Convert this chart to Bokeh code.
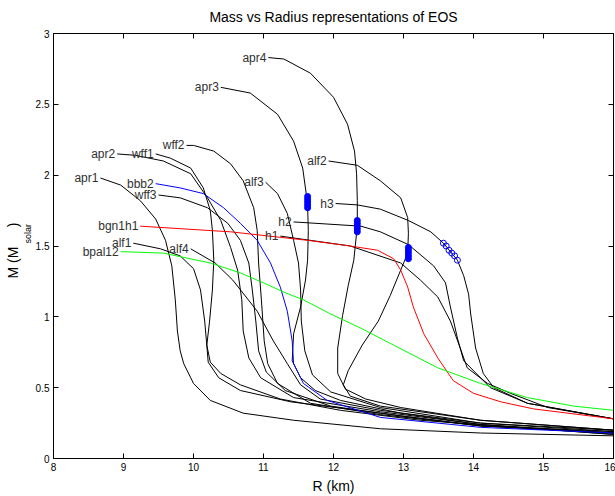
from bokeh.plotting import figure
from bokeh.models import LinearAxis, Range1d, FixedTicker, Title
from bokeh.embed import file_html
from bokeh.resources import INLINE
from bokeh.core.properties import value

FONT = "Liberation Sans"

x_ticks = [8, 9, 10, 11, 12, 13, 14, 15, 16]
y_ticks = [0, 0.5, 1, 1.5, 2, 2.5, 3]

# ---- curves (R in km, M in solar masses) ----
apr1_R = [8.67, 8.96, 9.24, 9.46, 9.60, 9.69, 9.74, 9.77, 9.81, 9.86, 10.0, 10.24, 10.71, 11.43, 12.67, 14.1, 16.0]
apr1_M = [1.98, 1.93, 1.82, 1.69, 1.54, 1.36, 1.12, 0.90, 0.76, 0.67, 0.53, 0.41, 0.32, 0.27, 0.21, 0.18, 0.16]

apr2_R = [8.91, 9.17, 9.57, 9.96, 10.20, 10.39, 10.53, 10.63, 10.69, 10.71, 10.79, 10.96, 11.43, 12.67, 14.10, 16.0]
apr2_M = [2.15, 2.14, 2.10, 2.01, 1.84, 1.68, 1.49, 1.33, 1.12, 0.90, 0.71, 0.57, 0.43, 0.33, 0.24, 0.17]

wff1_R = [9.46, 9.67, 9.96, 10.14, 10.24, 10.27, 10.29, 10.27, 10.23, 10.19, 10.21, 10.36, 10.67, 11.39, 12.67, 14.10, 16.0]
wff1_M = [2.15, 2.12, 2.05, 1.91, 1.75, 1.61, 1.40, 1.19, 0.97, 0.80, 0.68, 0.57, 0.48, 0.40, 0.32, 0.23, 0.18]

wff2_R = [9.90, 10.0, 10.29, 10.53, 10.71, 10.86, 10.91, 10.93, 10.97, 11.01, 11.06, 11.2, 11.67, 12.67, 14.10, 16.0]
wff2_M = [2.21, 2.21, 2.17, 2.08, 1.96, 1.77, 1.61, 1.38, 1.12, 0.83, 0.67, 0.53, 0.39, 0.31, 0.23, 0.19]

wff3_R = [9.50, 9.81, 10.2, 10.49, 10.67, 10.79, 10.84, 10.89, 10.93, 11.04, 11.31, 11.96, 12.96, 14.10, 16.0]
wff3_M = [1.86, 1.84, 1.77, 1.66, 1.54, 1.38, 1.19, 0.97, 0.76, 0.61, 0.48, 0.37, 0.30, 0.23, 0.18]

bbb2_R = [9.46, 9.81, 10.14, 10.43, 10.67, 10.91, 11.1, 11.24, 11.34, 11.41, 11.43, 11.57, 11.91, 12.67, 14.10, 16.0]
bbb2_M = [1.94, 1.91, 1.87, 1.77, 1.66, 1.54, 1.38, 1.21, 1.04, 0.83, 0.67, 0.53, 0.41, 0.29, 0.22, 0.18]

apr3_R = [10.39, 10.81, 11.2, 11.43, 11.56, 11.61, 11.63, 11.64, 11.63, 11.6, 11.53, 11.43, 11.41, 11.53, 11.74, 12.1, 12.96, 14.1, 16.0]
apr3_M = [2.62, 2.58, 2.43, 2.24, 2.05, 1.87, 1.79, 1.61, 1.40, 1.26, 1.07, 0.88, 0.69, 0.57, 0.48, 0.41, 0.32, 0.24, 0.18]

apr4_R = [11.07, 11.29, 11.67, 12.0, 12.2, 12.3, 12.33, 12.34, 12.34, 12.29, 12.21, 12.13, 12.06, 12.06, 12.17, 12.46, 12.96, 14.1, 16.0]
apr4_M = [2.83, 2.82, 2.72, 2.55, 2.36, 2.17, 2.01, 1.82, 1.64, 1.40, 1.22, 1.01, 0.78, 0.60, 0.49, 0.42, 0.36, 0.27, 0.20]

alf1_R = [9.14, 9.53, 9.81, 10.0, 10.1, 10.16, 10.19, 10.24, 10.39, 10.67, 11.24, 12.1, 13.24, 16.0]
alf1_M = [1.52, 1.48, 1.43, 1.34, 1.19, 0.97, 0.80, 0.68, 0.60, 0.52, 0.42, 0.34, 0.27, 0.17]

alf2_R = [11.93, 12.34, 12.67, 12.96, 13.06, 13.07, 13.06, 12.96, 12.81, 12.64, 12.41, 12.21, 12.14, 12.24, 12.67, 14.1, 16.0]
alf2_M = [2.10, 2.07, 1.96, 1.84, 1.70, 1.59, 1.45, 1.33, 1.15, 0.97, 0.80, 0.62, 0.52, 0.44, 0.37, 0.27, 0.20]

alf3_R = [11.03, 11.2, 11.34, 11.43, 11.5, 11.53, 11.54, 11.59, 11.7, 11.96, 12.67, 14.1, 16.0]
alf3_M = [1.95, 1.87, 1.73, 1.54, 1.38, 1.19, 0.97, 0.76, 0.59, 0.47, 0.36, 0.25, 0.19]

alf4_R = [9.96, 10.31, 10.56, 10.91, 11.14, 11.34, 11.53, 11.81, 12.67, 14.1, 16.0]
alf4_M = [1.48, 1.38, 1.26, 1.04, 0.83, 0.67, 0.52, 0.42, 0.34, 0.25, 0.20]

bpal12_R = [8.96, 9.57, 10.24, 10.67, 11.0, 11.31, 11.57, 11.96, 12.39, 12.86, 13.49, 14.1, 14.77, 15.43, 16.0]
bpal12_M = [1.46, 1.45, 1.38, 1.31, 1.24, 1.17, 1.12, 1.02, 0.92, 0.80, 0.64, 0.53, 0.43, 0.37, 0.34]

bgn1h1_R = [9.24, 10.53, 11.63, 12.24, 12.63, 12.86, 12.96, 13.06, 13.14, 13.29, 13.49, 13.71, 14.0, 14.39, 14.86, 16.0]
bgn1h1_M = [1.64, 1.60, 1.54, 1.50, 1.47, 1.41, 1.33, 1.21, 1.07, 0.88, 0.71, 0.55, 0.46, 0.40, 0.35, 0.28]

h1_R = [11.24, 12.24, 12.96, 13.24, 13.49, 13.67, 13.81, 13.91, 14.2, 14.53, 15.06, 16.0]
h1_M = [1.57, 1.50, 1.38, 1.26, 1.14, 0.97, 0.78, 0.64, 0.53, 0.46, 0.36, 0.28]

h2_R = [11.43, 12.39, 12.67, 13.07, 13.43, 13.6, 13.67, 13.77, 13.86, 14.24, 14.77, 16.0]
h2_M = [1.67, 1.64, 1.60, 1.51, 1.36, 1.24, 1.07, 0.85, 0.69, 0.50, 0.39, 0.28]

h3_R = [12.03, 12.34, 12.67, 13.07, 13.39, 13.57, 13.77, 13.86, 13.93, 13.96, 14.03, 14.14, 14.29, 14.77, 16.0]
h3_M = [1.80, 1.79, 1.76, 1.68, 1.60, 1.52, 1.40, 1.29, 1.16, 1.02, 0.78, 0.60, 0.50, 0.39, 0.28]

# blue markers
dots_apr3_R = [11.63, 11.63, 11.63, 11.63, 11.63]
dots_apr3_M = [1.77, 1.79, 1.81, 1.83, 1.85]
dots_apr4_R = [12.34, 12.34, 12.34, 12.34, 12.34]
dots_apr4_M = [1.60, 1.62, 1.64, 1.66, 1.68]
dots_alf2_R = [13.07, 13.07, 13.07, 13.07, 13.07]
dots_alf2_M = [1.41, 1.43, 1.45, 1.47, 1.49]
rings_h3_R = [13.57, 13.61, 13.65, 13.69, 13.73, 13.77]
rings_h3_M = [1.52, 1.50, 1.47, 1.45, 1.43, 1.40]

curves = [
    ("apr1", apr1_R, apr1_M, "black"),
    ("apr2", apr2_R, apr2_M, "black"),
    ("apr3", apr3_R, apr3_M, "black"),
    ("apr4", apr4_R, apr4_M, "black"),
    ("wff1", wff1_R, wff1_M, "black"),
    ("wff2", wff2_R, wff2_M, "black"),
    ("wff3", wff3_R, wff3_M, "black"),
    ("alf1", alf1_R, alf1_M, "black"),
    ("alf2", alf2_R, alf2_M, "black"),
    ("alf3", alf3_R, alf3_M, "black"),
    ("alf4", alf4_R, alf4_M, "black"),
    ("h1", h1_R, h1_M, "black"),
    ("h2", h2_R, h2_M, "black"),
    ("h3", h3_R, h3_M, "black"),
    ("bbb2", bbb2_R, bbb2_M, "#0000ff"),
    ("bgn1h1", bgn1h1_R, bgn1h1_M, "#ff0000"),
    ("bpal12", bpal12_R, bpal12_M, "#00ff00"),
]

p = figure(width=615, height=496, x_range=Range1d(8, 16), y_range=Range1d(0, 3),
           output_backend="svg", toolbar_location=None,
           min_border_left=53, min_border_right=2, min_border_top=33, min_border_bottom=38)
p.background_fill_color = "white"
p.border_fill_color = "white"
p.outline_line_color = "black"
p.grid.visible = False

p.xaxis.ticker = FixedTicker(ticks=x_ticks)
p.yaxis.ticker = FixedTicker(ticks=y_ticks)
for ax in p.axis:
    ax.major_tick_in = 5
    ax.major_tick_out = 0
    ax.minor_tick_in = 0
    ax.minor_tick_out = 0
    ax.axis_line_color = "black"
    ax.major_tick_line_color = "black"
    ax.major_label_text_font = FONT
    ax.major_label_text_font_size = "10px"
    ax.major_label_text_color = "black"
    ax.major_label_standoff = 4
p.xaxis.axis_label = "R (km)"
p.xaxis.axis_label_text_font = FONT
p.xaxis.axis_label_text_font_size = "14px"
p.xaxis.axis_label_text_font_style = "normal"
p.xaxis.axis_label_text_color = "black"
p.xaxis.axis_label_standoff = 4

top_ax = LinearAxis(ticker=FixedTicker(ticks=x_ticks),
                    major_label_overrides={t: "" for t in x_ticks},
                    major_tick_in=5, major_tick_out=0, minor_tick_in=0, minor_tick_out=0,
                    major_label_standoff=0, axis_line_color="black")
p.add_layout(top_ax, "above")
right_ax = LinearAxis(ticker=FixedTicker(ticks=y_ticks),
                      major_label_overrides={t: "" for t in y_ticks},
                      major_tick_in=5, major_tick_out=0, minor_tick_in=0, minor_tick_out=0,
                      major_label_standoff=0, axis_line_color="black")
p.add_layout(right_ax, "right")

p.add_layout(Title(text="Mass vs Radius representations of EOS", align="center",
                   vertical_align="middle",
                   text_font=FONT, text_font_size="14px", text_font_style="normal",
                   text_color="black", standoff=15), "above")

# y-axis label: subscript column (next to the axis), then the main text column
p.add_layout(Title(text="solar", align="left", offset=215, text_font=FONT,
                   text_font_size="9px", text_font_style="normal", text_color="black",
                   standoff=0), "left")
p.add_layout(Title(text="M (M\u00a0\u00a0\u00a0\u00a0\u00a0)", align="left", offset=180,
                   text_font=FONT, text_font_size="14px", text_font_style="normal",
                   text_color="black", standoff=0), "left")

for name, R, M, col in curves:
    p.line(R, M, line_color=col, line_width=1)

p.text(x=[c[1][0] for c in curves], y=[c[2][0] for c in curves], text=[c[0] for c in curves],
       text_align="right", text_baseline="middle", x_offset=-2,
       text_font=value(FONT), text_font_size=value("12px"), text_color="#303030")

for R, M in [(dots_apr3_R, dots_apr3_M), (dots_apr4_R, dots_apr4_M), (dots_alf2_R, dots_alf2_M)]:
    p.scatter(R, M, marker="circle", size=6, fill_color="#0000ff", line_color="#0000ff")
p.scatter(rings_h3_R, rings_h3_M, marker="circle", size=6, fill_color=None, line_color="#0000ff")

open("out.html", "w").write(file_html(p, INLINE))
